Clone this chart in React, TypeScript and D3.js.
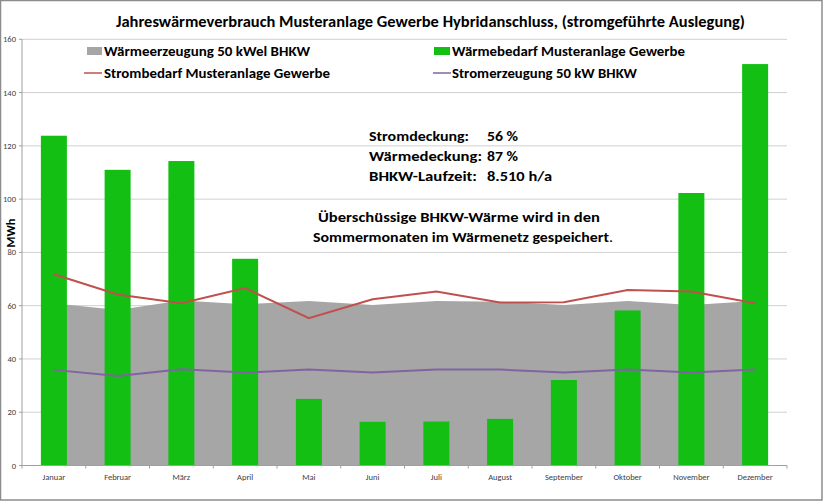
import React from "react";
import * as d3 from "d3";

const months = ["Januar", "Februar", "März", "April", "Mai", "Juni", "Juli", "August", "September", "Oktober", "November", "Dezember"];
const waermebedarf = [123.8, 111, 114.3, 77.6, 25, 16.4, 16.5, 17.5, 32.1, 58.2, 102.3, 150.7];
const waermeerzeugung = [60.9, 58.4, 61.9, 60.5, 61.8, 60.3, 61.8, 61.5, 60.3, 61.8, 60.3, 61.8];
const strombedarf = [71.8, 64.2, 60.9, 66.6, 55.3, 62.4, 65.3, 61.2, 61.3, 65.9, 65.3, 60.9];
const stromerzeugung = [35.9, 33.6, 36.1, 34.9, 36, 34.9, 36, 36, 34.9, 36, 34.9, 36];
const yTicks = [0, 20, 40, 60, 80, 100, 120, 140, 160];

const title = "Jahreswärmeverbrauch Musteranlage Gewerbe Hybridanschluss, (stromgeführte Auslegung)";
const legendLabels = ["Wärmeerzeugung 50 kWel BHKW", "Wärmebedarf Musteranlage Gewerbe", "Strombedarf Musteranlage Gewerbe", "Stromerzeugung 50 kW BHKW"];
const infoLabels = ["Stromdeckung:", "Wärmedeckung:", "BHKW-Laufzeit:"];
const infoValues = ["56 %", "87 %", "8.510 h/a"];
const noteLines = ["Überschüssige BHKW-Wärme wird in den", "Sommermonaten im Wärmenetz gespeichert"];

const W = 823, H = 501;
const L = 22, R = 787, T = 39.3, B = 465.5;
const FONT = "Carlito, Calibri, 'Open Sans', Lato, sans-serif";
const SMALL = "Carlito, Calibri, Lato, sans-serif";
const GREEN = "#12bf12";
const GRAY = "#a6a6a6";
const RED = "#c0504d";
const PURPLE = "#8064a2";

const legendW = [206, 233, 226, 185];
const infoLabelW = [100, 113, 108];
const infoValueW = [31, 31, 65];

export default function App() {
  const x = d3.scaleBand<string>().domain(months).range([L, R]).padding(0);
  const y = d3.scaleLinear().domain([0, 160]).range([B, T]);
  const cx = (m: string) => (x(m) as number) + x.bandwidth() / 2;
  const barW = 26;

  const area = d3.area<number>().x((_, i) => cx(months[i])).y0(y(0)).y1((d) => y(d));
  const line = d3.line<number>().x((_, i) => cx(months[i])).y((d) => y(d));

  return (
    <svg width={W} height={H} style={{ position: "absolute", left: 0, top: 0, background: "#fff" }} fontFamily={FONT}>
      <rect x={0.5} y={0.5} width={W - 1.5} height={H - 1.5} fill="#fff" stroke="#8c8c8c" strokeWidth={1.5} />
      {yTicks.map((t) => (
        <g key={t}>
          {t > 0 && <line x1={L} x2={R} y1={y(t)} y2={y(t)} stroke="#d0d0d0" strokeWidth={1} />}
          <line x1={L - 3} x2={L} y1={y(t)} y2={y(t)} stroke="#a0a0a0" />
          <text x={16} y={y(t) + 3} textAnchor="end" fontSize={8.5} fill="#404040" fontFamily={SMALL}>{t}</text>
        </g>
      ))}
      <path d={area(waermeerzeugung) || ""} fill={GRAY} />
      {months.map((m, i) => (
        <rect key={m} x={cx(m) - barW / 2} y={y(waermebedarf[i])} width={barW} height={y(0) - y(waermebedarf[i])} fill={GREEN} />
      ))}
      <path d={line(strombedarf) || ""} fill="none" stroke={RED} strokeWidth={2} />
      <path d={line(stromerzeugung) || ""} fill="none" stroke={PURPLE} strokeWidth={2} />
      <line x1={L} x2={L} y1={T} y2={B} stroke="#a0a0a0" />
      <line x1={L} x2={R} y1={B} y2={B} stroke="#a0a0a0" />
      {months.map((m) => (
        <line key={"t" + m} x1={x(m) as number} x2={x(m) as number} y1={B} y2={B + 3} stroke="#a0a0a0" />
      ))}
      <line x1={R} x2={R} y1={B} y2={B + 3} stroke="#a0a0a0" />
      {months.map((m) => (
        <text key={"l" + m} x={cx(m)} y={480} textAnchor="middle" fontSize={8.5} fill="#404040" fontFamily={SMALL}>{m}</text>
      ))}
      <text transform={`translate(15,233) rotate(-90)`} textAnchor="middle" fontSize={12.5} fontWeight="bold" fill="#000" textLength={29} lengthAdjust="spacingAndGlyphs">MWh</text>
      <text x={116} y={26.5} fontSize={15} fontWeight="bold" fill="#000" textLength={629} lengthAdjust="spacingAndGlyphs">{title}</text>
      <rect x={87} y={47} width={15} height={8} fill={GRAY} />
      <text x={104} y={56} fontSize={13.5} fontWeight="bold" textLength={legendW[0]} lengthAdjust="spacingAndGlyphs">{legendLabels[0]}</text>
      <rect x={434} y={47} width={16} height={8} fill={GREEN} />
      <text x={452} y={56} fontSize={13.5} fontWeight="bold" textLength={legendW[1]} lengthAdjust="spacingAndGlyphs">{legendLabels[1]}</text>
      <line x1={84} x2={102} y1={73} y2={73} stroke={RED} strokeWidth={1.5} />
      <text x={104} y={78} fontSize={13.5} fontWeight="bold" textLength={legendW[2]} lengthAdjust="spacingAndGlyphs">{legendLabels[2]}</text>
      <line x1={433} x2={451} y1={73} y2={73} stroke={PURPLE} strokeWidth={1.5} />
      <text x={452} y={78} fontSize={13.5} fontWeight="bold" textLength={legendW[3]} lengthAdjust="spacingAndGlyphs">{legendLabels[3]}</text>
      {infoLabels.map((t, i) => (
        <g key={t}>
          <text x={369} y={140.5 + i * 20} fontSize={14.5} fontWeight="bold" textLength={infoLabelW[i]} lengthAdjust="spacingAndGlyphs">{t}</text>
          <text x={487} y={140.5 + i * 20} fontSize={14.5} fontWeight="bold" textLength={infoValueW[i]} lengthAdjust="spacingAndGlyphs">{infoValues[i]}</text>
        </g>
      ))}
      <text x={318} y={222} fontSize={14.5} fontWeight="bold" textLength={282} lengthAdjust="spacingAndGlyphs">{noteLines[0]}</text>
      <text x={313} y={242} fontSize={14.5} fontWeight="bold" textLength={300} lengthAdjust="spacingAndGlyphs">
        {noteLines[1]}<tspan fontWeight="normal">.</tspan>
      </text>
    </svg>
  );
}
